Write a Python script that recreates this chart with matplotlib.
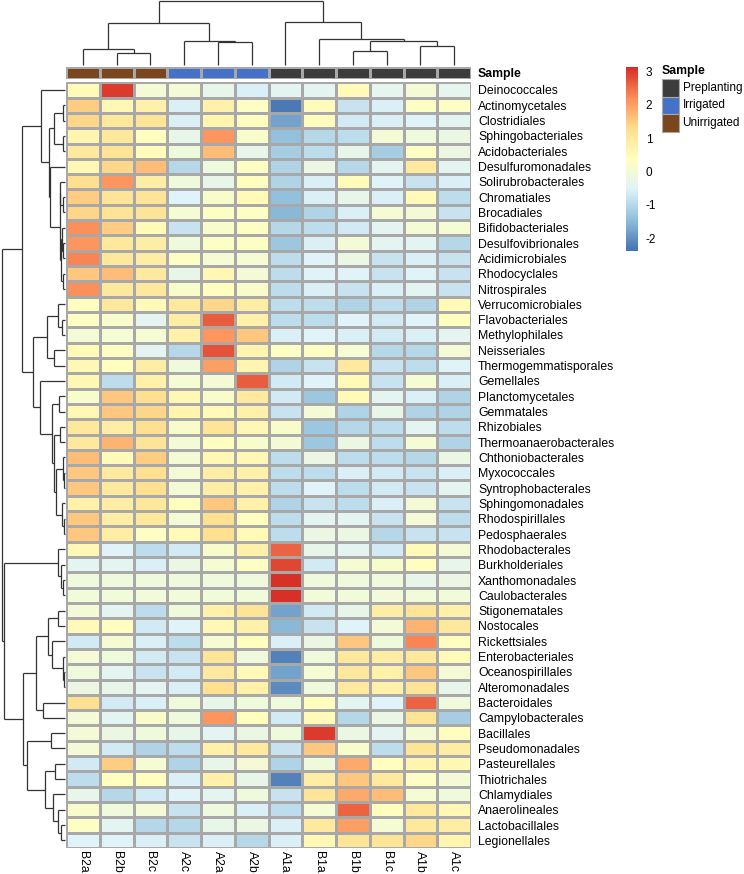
import numpy as np
import matplotlib
matplotlib.use("Agg")
import matplotlib.pyplot as plt
from matplotlib.colors import LinearSegmentedColormap, ListedColormap
from matplotlib.patches import Rectangle

plt.rcParams['font.family'] = ['Liberation Sans', 'DejaVu Sans']

# ---------------- data ----------------
columns = ["B2a", "B2b", "B2c", "A2c", "A2a", "A2b", "A1a", "B1a", "B1b", "B1c", "A1b", "A1c"]
column_group = ["Unirrigated", "Unirrigated", "Unirrigated", "Irrigated", "Irrigated", "Irrigated",
                "Preplanting", "Preplanting", "Preplanting", "Preplanting", "Preplanting", "Preplanting"]
groups = ["Preplanting", "Irrigated", "Unirrigated"]
group_colors = ["#3c3c3c", "#4472c8", "#7b451e"]

taxa = ["Deinococcales", "Actinomycetales", "Clostridiales", "Sphingobacteriales", "Acidobacteriales",
        "Desulfuromonadales", "Solirubrobacterales", "Chromatiales", "Brocadiales", "Bifidobacteriales",
        "Desulfovibrionales", "Acidimicrobiales", "Rhodocyclales", "Nitrospirales", "Verrucomicrobiales",
        "Flavobacteriales", "Methylophilales", "Neisseriales", "Thermogemmatisporales", "Gemellales",
        "Planctomycetales", "Gemmatales", "Rhizobiales", "Thermoanaerobacterales", "Chthoniobacterales",
        "Myxococcales", "Syntrophobacterales", "Sphingomonadales", "Rhodospirillales", "Pedosphaerales",
        "Rhodobacterales", "Burkholderiales", "Xanthomonadales", "Caulobacterales", "Stigonematales",
        "Nostocales", "Rickettsiales", "Enterobacteriales", "Oceanospirillales", "Alteromonadales",
        "Bacteroidales", "Campylobacterales", "Bacillales", "Pseudomonadales", "Pasteurellales",
        "Thiotrichales", "Chlamydiales", "Anaerolineales", "Lactobacillales", "Legionellales"]

zscores = [
    [0.5, 3.0, 0.0, 0.05, -0.3, -0.6, -0.4, -0.4, 0.5, -0.35, 0.05, -0.35],
    [1.5, 0.6, 0.8, -0.6, 0.8, 0.3, -2.3, 0.45, -0.8, -0.6, 0.3, 0.3],
    [1.4, 1.1, 1.2, -0.6, 0.7, 0.4, -1.8, 0.45, -0.7, -0.6, -0.5, -0.4],
    [0.7, 1.1, 0.4, -0.3, 2.1, 0.2, -1.4, -1.0, -0.9, 0.0, -0.1, -0.2],
    [1.0, 1.2, 0.45, -0.1, 1.7, -0.3, -1.2, -0.9, -0.3, -1.2, 0.3, -0.2],
    [0.6, 1.4, 1.7, -1.0, -0.1, 0.3, -1.1, -0.2, -1.0, -0.4, 1.0, -0.4],
    [1.3, 2.1, 0.9, -0.1, -0.3, 0.4, -1.1, -0.6, 0.45, -0.5, -0.8, -0.6],
    [1.5, 1.2, 1.2, -0.5, 0.2, 0.5, -1.4, -0.6, -0.3, -0.6, 0.5, -0.9],
    [1.4, 1.2, 1.2, 0.1, 0.3, 0.3, -1.5, -1.1, -0.6, 0.1, 0.0, -0.8],
    [2.2, 1.5, 0.5, -0.8, 0.2, 0.3, -1.0, -0.9, -0.7, -0.4, 0.1, 0.1],
    [2.1, 1.1, 0.9, -0.1, 0.3, 0.3, -1.3, -0.6, 0.0, -0.4, -0.4, -1.0],
    [2.3, 1.1, 0.9, 0.3, 0.1, 0.1, -0.9, -0.5, -0.2, -0.8, -0.6, -0.8],
    [1.6, 1.7, 1.0, -0.3, 0.6, 0.0, -0.9, -0.5, -0.5, -0.8, -0.5, -0.8],
    [2.2, 1.1, 1.1, 0.2, 0.4, 0.2, -0.9, -0.6, -0.8, -0.6, -0.4, -0.8],
    [0.4, 1.1, 0.5, 1.0, 1.4, 0.9, -0.9, -0.9, -1.1, -0.9, -1.1, 0.5],
    [0.3, 0.2, -0.4, 0.9, 2.7, 0.8, -0.9, -0.9, -0.5, -0.7, -0.5, 0.4],
    [0.0, 0.1, 0.1, 0.8, 2.1, 1.6, -0.6, -0.5, -0.6, -0.7, -0.6, -0.4],
    [0.5, 0.3, -0.4, -1.0, 2.8, 0.7, 0.3, 0.3, 0.1, -1.0, -1.0, 0.0],
    [0.6, 0.4, 0.9, -0.1, 2.0, 0.7, -1.1, -0.8, 1.0, -0.8, -0.9, -0.5],
    [0.6, -0.9, 0.8, 0.1, 0.0, 2.7, -0.7, -0.5, 0.5, -0.8, 0.1, -0.6],
    [0.2, 1.6, 1.3, 0.6, 0.2, 1.0, -0.7, -1.3, 0.5, -0.4, -0.6, -1.1],
    [0.6, 1.6, 1.4, 0.7, 0.5, 0.8, -0.8, 0.0, -1.1, -0.3, -1.1, -1.1],
    [1.1, 0.9, 1.3, 0.2, 1.2, 0.6, 0.2, -1.3, -1.0, -0.9, -0.4, -0.9],
    [1.1, 1.8, 1.2, 0.0, 0.4, 0.2, 0.0, -1.3, -0.2, -0.9, 0.1, -1.1],
    [1.7, 0.5, 1.5, 0.0, 0.6, 0.6, -0.9, -0.2, -0.9, -0.9, -1.0, -0.2],
    [1.6, 1.0, 1.3, 0.0, 0.9, 0.8, -0.9, -0.9, -0.6, -0.7, -0.8, -0.6],
    [1.6, 1.0, 1.3, 0.0, 0.9, 0.8, -0.9, -0.5, -0.9, -0.7, -0.8, -0.4],
    [0.8, 0.9, 1.1, 0.4, 1.6, 0.8, -1.1, -0.8, -0.9, -0.6, 0.0, -0.8],
    [1.6, 0.9, 1.1, 0.0, 1.3, 0.4, -0.9, -0.4, -0.4, -0.8, 0.0, -0.9],
    [1.6, 0.9, 0.3, 0.5, 1.3, 0.5, -0.9, -0.2, -0.2, -1.0, -0.8, -0.8],
    [0.6, -0.5, -0.9, -0.7, 0.2, 0.8, 2.6, -0.3, -0.4, -0.7, 0.5, 0.0],
    [-0.4, -0.4, -0.6, -0.2, 0.1, 0.3, 2.9, -0.7, 0.1, 0.2, 0.4, -0.3],
    [-0.1, -0.1, -0.1, -0.1, -0.1, -0.1, 3.1, -0.1, -0.1, -0.1, -0.3, -0.2],
    [-0.05, -0.05, -0.05, -0.05, -0.05, -0.05, 3.1, -0.05, -0.05, -0.05, -0.05, -0.05],
    [0.0, -0.4, -0.9, -0.1, 0.8, 1.2, -1.8, -0.7, -0.3, 0.9, 1.2, 0.8],
    [0.5, 0.4, -0.7, -0.5, 0.6, 0.8, -1.5, -0.8, -0.5, 0.0, 1.8, 1.1],
    [-0.7, 0.1, -0.6, -0.9, 0.1, 0.4, -0.6, -0.2, 1.6, -0.1, 2.3, 0.4],
    [0.0, -0.1, -0.7, -0.8, 1.2, -0.1, -2.2, -0.1, 1.1, 0.9, 1.1, 0.5],
    [-0.1, -0.4, -0.8, -0.7, 1.0, 0.5, -1.8, 0.1, 1.1, 0.8, 1.6, 0.0],
    [-0.2, -0.3, -0.4, -0.6, 1.3, 0.8, -2.1, -0.1, 1.0, 0.8, 1.2, -0.3],
    [1.3, -0.7, -0.6, -0.1, -0.3, -0.1, -0.1, 0.4, -0.4, -0.5, 2.6, -0.1],
    [0.0, -0.4, 0.2, -0.1, 2.1, 0.4, -0.7, 0.5, -1.0, -0.2, 1.2, -1.2],
    [0.0, -0.2, -0.1, -0.3, -0.4, -0.2, -0.1, 3.0, -0.2, -0.4, 0.0, 0.4],
    [0.0, -0.7, -1.1, -0.9, 0.8, 1.0, -0.8, 1.6, 0.2, -0.9, 1.2, 0.9],
    [-0.7, 1.5, 0.1, -1.1, -0.3, 0.0, -1.1, -0.1, 1.9, 0.4, 0.7, 0.6],
    [-0.9, 0.4, 0.4, -0.6, 0.8, -0.3, -2.2, 0.9, 1.6, 1.0, 0.3, 0.0],
    [-0.3, -1.0, -0.7, -0.5, -0.4, -0.1, -0.8, 1.2, 1.9, 1.7, 0.1, -0.1],
    [0.2, -0.1, 0.0, -0.8, -0.1, -0.6, -0.9, 0.1, 2.6, 0.4, 1.0, 0.6],
    [0.3, -0.4, -1.0, -1.0, -0.3, -0.2, -0.6, 1.0, 2.0, 0.1, 1.1, 0.9],
    [-0.5, -0.5, -0.6, -0.8, -0.6, -1.0, -0.6, 0.6, 1.2, 1.2, 1.4, 0.7],
]
color_range = (-2.38, 3.15)
colorbar_ticks = [-2, -1, 0, 1, 2, 3]

# dendrogram structures: (left, right, merge height); leaves are indices
col_tree = ((0, (1, 2, 11.7), 16.3), (3, (4, 5, 22.7), 24.0), 42.0)
col_tree = (col_tree, (6, (7, ((8, 9, 14.0), (10, 11, 19.3), 24.3), 26.3), 43.3), 64.3)

row_A = (0, (((1, 2, 2.5), (3, 4, 2.5), 11.0),
             (5, ((6, (7, 8, 2.5), 5.0), ((9, (10, 11, 2.0), 3.0), (12, 13, 2.5), 4.0), 5.5), 15.0),
             16.0), 24.3)
row_B = (((14, (15, 16, 3.3), 7.3), (17, 18, 11.0), 18.3),
         (19, ((20, 21, 5.7), ((22, 23, 5.0), ((24, (25, 26, 0.7), 2.5), (27, (28, 29, 1.5), 3.0), 9.0), 10.7), 13.3), 25.0),
         32.3)
row_C = (30, (31, (32, 33, 1.7), 4.0), 6.7)
row_D = ((((34, 35, 6.7), (36, (37, (38, 39, 0.7), 2.3), 13.3), 17.3), (40, 41, 22.3), 29.0),
         ((42, 43, 14.3), ((44, 45, 10.0), (46, (47, (48, 49, 4.0), 6.7), 11.7), 20.0), 38.3),
         42.3)
row_tree = ((row_A, row_B, 43.3), (row_C, row_D, 61.0), 63.3)

# ---------------- figure ----------------
W, H = 744, 874
fig = plt.figure(figsize=(W / 100, H / 100), dpi=100)


def box(x0, y0, x1, y1):
    return [x0 / W, 1 - y1 / H, (x1 - x0) / W, (y1 - y0) / H]


hm_x0, hm_x1, hm_y0, hm_y1 = 66, 471, 82.3, 848
cmap = LinearSegmentedColormap.from_list(
    "rdylbu_r", ["#4575B4", "#91BFDB", "#E0F3F8", "#FFFFBF", "#FEE090", "#FC8D59", "#D73027"], N=100)
edge = "#a8a8a8"
fs = 8.8
fs_leg = 8.5

data = np.array(zscores)
nrow, ncol = data.shape

ax = fig.add_axes(box(hm_x0, hm_y0, hm_x1, hm_y1))
ax.pcolormesh(np.arange(ncol + 1), np.arange(nrow + 1), data, cmap=cmap,
              vmin=color_range[0], vmax=color_range[1], edgecolors=edge, linewidth=0.8)
ax.set_xlim(0, ncol)
ax.set_ylim(nrow, 0)
for s in ax.spines.values():
    s.set_visible(False)
ax.yaxis.tick_right()
ax.set_yticks(np.arange(nrow) + 0.5)
ax.set_yticklabels(taxa, fontsize=fs)
ax.set_xticks(np.arange(ncol) + 0.5)
ax.set_xticklabels(columns, fontsize=fs, rotation=270, va="top", ha="center")
ax.tick_params(length=0, pad=5)
ax.tick_params(axis="x", pad=2)

# annotation bar
axa = fig.add_axes(box(hm_x0, 66.7, hm_x1, 78.7))
gidx = np.array([[groups.index(g) for g in column_group]])
axa.pcolormesh(np.arange(ncol + 1), [0, 1], gidx, cmap=ListedColormap(group_colors),
               vmin=-0.5, vmax=len(groups) - 0.5, edgecolors=edge, linewidth=0.8)
axa.set_xlim(0, ncol)
axa.set_ylim(1, 0)
for s in axa.spines.values():
    s.set_visible(False)
axa.set_xticks([])
axa.yaxis.tick_right()
axa.set_yticks([0.5])
axa.set_yticklabels(["Sample"], fontsize=fs, fontweight="bold")
axa.tick_params(length=0, pad=5)


def draw_tree(axis, node, leafpos, horizontal):
    if isinstance(node, int):
        return leafpos[node], 0.0
    left, right, h = node
    pl, hl = draw_tree(axis, left, leafpos, horizontal)
    pr, hr = draw_tree(axis, right, leafpos, horizontal)
    segs = [((pl, hl), (pl, h)), ((pr, hr), (pr, h)), ((pl, h), (pr, h))]
    for (p0, h0), (p1, h1) in segs:
        if horizontal:
            axis.plot([h0, h1], [p0, p1], color="#333333", lw=0.9, solid_capstyle="butt", clip_on=False)
        else:
            axis.plot([p0, p1], [h0, h1], color="#333333", lw=0.9, solid_capstyle="butt", clip_on=False)
    return (pl + pr) / 2, h


# column dendrogram
axc = fig.add_axes(box(hm_x0, 0, hm_x1, 65))
draw_tree(axc, col_tree, np.arange(ncol) + 0.5, horizontal=False)
axc.set_xlim(0, ncol)
axc.set_ylim(0, 65)
axc.axis("off")

# row dendrogram
axr = fig.add_axes(box(0, hm_y0, 65, hm_y1))
draw_tree(axr, row_tree, np.arange(nrow) + 0.5, horizontal=True)
axr.set_xlim(65, 0)
axr.set_ylim(nrow, 0)
axr.axis("off")

# colorbar
axcb = fig.add_axes(box(626, 66.7, 637.5, 250.7))
grad = np.linspace(color_range[0], color_range[1], 200).reshape(-1, 1)
axcb.imshow(grad, aspect="auto", cmap=cmap, origin="lower",
            extent=[0, 1, color_range[0], color_range[1]], vmin=color_range[0], vmax=color_range[1])
axcb.set_xticks([])
axcb.yaxis.tick_right()
axcb.set_yticks(colorbar_ticks)
axcb.set_yticklabels([str(t) for t in colorbar_ticks], fontsize=fs_leg)
axcb.tick_params(length=0, pad=6)
for s in axcb.spines.values():
    s.set_visible(False)

# legend for Sample
axl = fig.add_axes(box(661, 60, 744, 135))
axl.set_xlim(661, 744)
axl.set_ylim(135, 60)
axl.axis("off")
axl.text(661.5, 70.7, "Sample", fontsize=fs, fontweight="bold", va="center", ha="left")
for k, (g, c) in enumerate(zip(groups, group_colors)):
    y0 = 79 + k * 17.5
    axl.add_patch(Rectangle((661.5, y0), 17.5, 17.5, facecolor=c, edgecolor=edge, lw=0.8))
    axl.text(682.5, y0 + 8.75, g, fontsize=fs_leg, va="center", ha="left")

fig.savefig("out.png", dpi=100)
